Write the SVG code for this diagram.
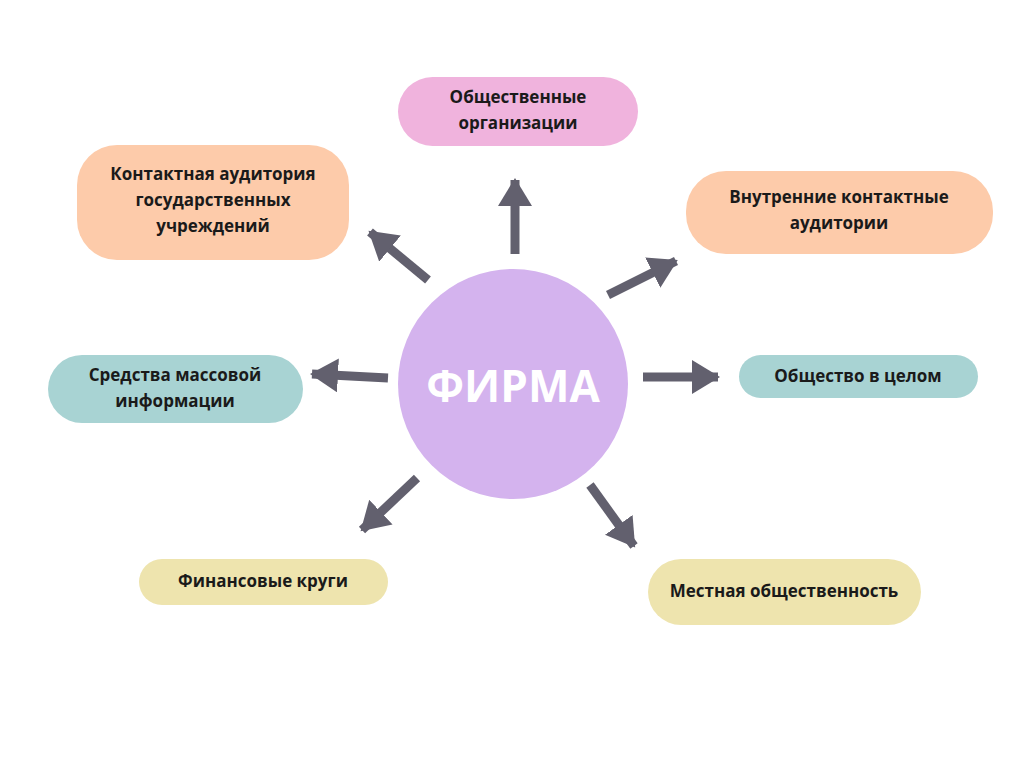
<svg xmlns="http://www.w3.org/2000/svg" width="1024" height="768" viewBox="0 0 1024 768">
<style>
.t{font-family:"Open Sans","Liberation Sans",sans-serif;font-weight:bold;font-size:17px;fill:#1a1a1a;text-anchor:middle}
.a{stroke:#62606E;stroke-width:9;fill:none}
</style>
<defs>
<marker id="h" markerUnits="userSpaceOnUse" markerWidth="30" markerHeight="34" refX="26" refY="17" orient="auto">
<path d="M0,0 L28,17 L0,34 z" fill="#62606E"/>
</marker>
</defs>
<rect width="1024" height="768" fill="#fff"/>
<g id="connectors">
<line class="a" x1="515" y1="254" x2="515" y2="180" marker-end="url(#h)"/>
<line class="a" x1="428" y1="280" x2="370" y2="232" marker-end="url(#h)"/>
<line class="a" x1="608" y1="295" x2="676" y2="261" marker-end="url(#h)"/>
<line class="a" x1="388" y1="378" x2="312" y2="374" marker-end="url(#h)"/>
<line class="a" x1="643" y1="377" x2="718" y2="377" marker-end="url(#h)"/>
<line class="a" x1="417" y1="478" x2="362" y2="530" marker-end="url(#h)"/>
<line class="a" x1="590" y1="485" x2="634" y2="546" marker-end="url(#h)"/>
</g>
<g id="firm">
<circle cx="513" cy="384" r="115" fill="#D4B3EE"/>
<text x="513" y="402" font-family="'Open Sans','Liberation Sans',sans-serif" font-weight="bold" font-size="44" fill="#fff" text-anchor="middle">ФИРМА</text>
</g>
<g id="n1">
<rect x="398" y="77" width="240" height="69" rx="34.5" fill="#F0B3DD"/>
<text class="t" x="518" y="103">Общественные</text>
<text class="t" x="518" y="129">организации</text>
</g>
<g id="n2">
<rect x="77" y="145" width="272" height="115" rx="40" fill="#FDCBAA"/>
<text class="t" x="213" y="180">Контактная аудитория</text>
<text class="t" x="213" y="206">государственных</text>
<text class="t" x="213" y="232">учреждений</text>
</g>
<g id="n3">
<rect x="686" y="171" width="307" height="83" rx="40" fill="#FDCBAA"/>
<text class="t" x="839" y="203">Внутренние контактные</text>
<text class="t" x="839" y="229">аудитории</text>
</g>
<g id="n4">
<rect x="48" y="355" width="255" height="68" rx="34" fill="#A8D3D3"/>
<text class="t" x="175" y="381">Средства массовой</text>
<text class="t" x="175" y="407">информации</text>
</g>
<g id="n5">
<rect x="739" y="355" width="239" height="43" rx="21.5" fill="#A8D3D3"/>
<text class="t" x="858" y="382">Общество в целом</text>
</g>
<g id="n6">
<rect x="139" y="559" width="249" height="46" rx="23" fill="#EEE4AE"/>
<text class="t" x="263" y="587">Финансовые круги</text>
</g>
<g id="n7">
<rect x="648" y="559" width="273" height="66" rx="33" fill="#EEE4AE"/>
<text class="t" x="784" y="597">Местная общественность</text>
</g>
</svg>
